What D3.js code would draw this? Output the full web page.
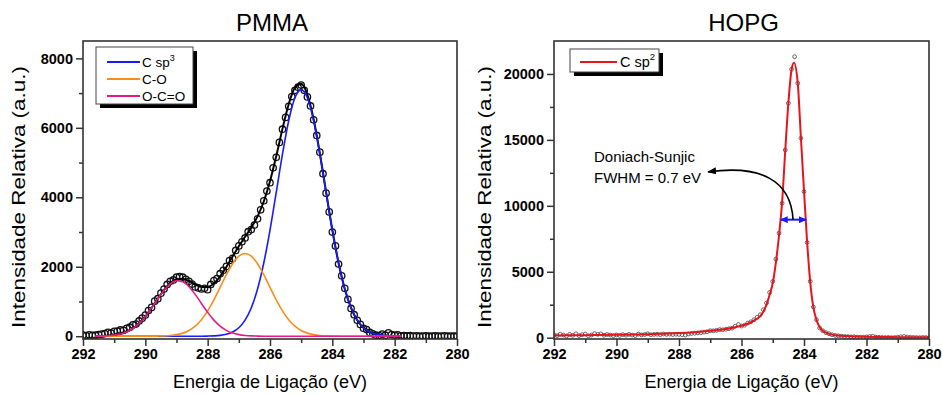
<!DOCTYPE html>
<html><head><meta charset="utf-8">
<script src="https://cdn.jsdelivr.net/npm/d3@7"></script>
<style>
body{margin:0;background:#fff;}
svg{display:block;font-family:"Liberation Sans",Arial,sans-serif;}
</style></head><body>
<svg id="chart" width="942" height="395"></svg>
<script>
// ---------- DATA ----------
const xTicks = [292, 290, 288, 286, 284, 282, 280];
const xMinorTicks = [291, 289, 287, 285, 283, 281];
const pmmaYTicks = [0, 2000, 4000, 6000, 8000];
const pmmaYMinor = [1000, 3000, 5000, 7000];
const hopgYTicks = [0, 5000, 10000, 15000, 20000];
const hopgYMinor = [2500, 7500, 12500, 17500];

// PMMA measured points: binding energy 292.0 -> 280.0 eV, step 0.1 eV
const pmmaStartEV = 292.0, pmmaStepEV = 0.1;
const pmmaIntensity = [
  30,20,40,25,30,45,60,75,110,90,140,
  150,180,170,230,260,330,350,440,520,610,
  740,830,1010,1080,1240,1360,1490,1580,1620,1700,
  1720,1700,1640,1580,1500,1420,1390,1360,1380,1340,
  1490,1600,1660,1800,1900,2010,2180,2240,2470,2600,
  2720,2830,3010,3070,3200,3380,3640,3900,4180,4420,
  4850,5150,5580,5960,6300,6620,6900,7080,7170,7230,
  7080,6890,6630,6230,5780,5300,4680,4120,3580,3000,
  2600,2080,1740,1380,1060,800,620,460,340,230,
  190,110,70,30,20,60,30,100,50,30,
  40,10,20,10,15,5,10,0,5,10,
  0,5,10,0,5,10,0,5,0,5
];

// PMMA fitted components: 291.6 -> 281.8 eV, step 0.2 eV
const compStartEV = 291.6, compStepEV = 0.2;
const compSp3 = [0,0,0,0,0,0,0,0,0,0,0,0,0,0,0,0,0,
  1,4,10,24,55,120,243,462,819,1360,2108,3055,4139,5241,6204,6864,7100,
  6864,6204,5241,4139,3055,2108,1360,819,462,243,120,55,24,10,4,1];
const compCO = [0,0,0,0,0,0,0,0,0,
  2,4,9,21,45,89,166,290,475,729,1046,1407,1770,2087,2303,2380,2303,2087,
  1770,1407,1046,729,475,290,166,89,45,21,9,4,2,
  0,0,0,0,0,0,0,0,0,0];
const compOCO = [2,6,14,31,64,124,222,369,569,812,1076,1323,1509,1596,1567,1426,
  1205,944,686,463,289,168,90,45,21,9,4,1,
  0,0,0,0,0,0,0,0,0,0,0,0,0,0,0,0,0,0,0,0,0,0];
const pmmaFit = [2,6,14,31,64,124,222,369,569,814,1080,1332,1530,1641,1656,1592,
  1495,1420,1419,1519,1720,1993,2297,2591,2863,3131,3451,3879,4462,5185,5970,
  6679,7154,7266,6953,6249,5262,4148,3059,2110,1360,819,462,243,120,55,24,10,4,1];

// HOPG measured points: 292.0 -> 280.0 eV, step 0.1 eV
const hopgStartEV = 292.0, hopgStepEV = 0.1;
const hopgIntensity = [
  220,150,260,200,130,250,180,300,160,230,280,
  140,200,310,250,290,180,240,200,150,210,
  170,230,190,250,200,160,270,210,240,300,
  220,250,260,230,280,250,270,240,260,250,
  230,200,280,320,340,360,380,420,450,530,
  520,560,610,600,640,680,720,870,1000,880,
  950,1110,1200,1360,1550,1740,2120,2630,3430,4270,
  5960,7930,10200,14240,17780,20360,21310,19300,15130,11080,
  7220,4270,2330,1360,740,530,380,300,220,170,
  140,110,90,80,60,70,50,40,30,60,
  90,110,40,30,20,10,20,0,10,30,
  70,90,50,30,20,10,0,20,10,0
];
// HOPG Doniach-Sunjic fit
const hopgFitEV = [292.0,291.0,290.0,289.0,288.5,288.0,287.5,287.0,286.5,286.2,286.0,285.8,285.6,285.4,285.3,285.2,285.1,285.0,284.9,284.8,284.7,284.6,284.5,284.4,284.32,284.2,284.1,284.0,283.9,283.8,283.7,283.6,283.5,283.4,283.3,283.2,283.0,282.5,282.0,281.0,280.0];
const hopgFitI = [170,190,220,260,300,350,420,520,660,790,900,1060,1300,1640,1960,2500,3250,4150,5700,7750,10300,14200,17800,20300,20850,19300,15200,11150,7250,4200,2300,1350,800,520,380,290,190,110,70,40,30];

// annotation anchors (data units of the HOPG panel)
const fwhmEV = [284.75, 283.93], fwhmLevel = 8950;
const curveEV = [284.35, 284.42, 285.41, 287.07];
const curveI  = [8950, 11980, 13120, 12570];
const noteEV = 290.72, noteI = [13325, 11732];

// ---------- DRAWING ----------
const svg = d3.select("#chart");
const plotTop = 41, plotBottom = 339;
const frameColor = "#333";
const defs = svg.append("defs");

function addMarker(id, color, w, h) {
  defs.append("marker").attr("id", id)
    .attr("viewBox", "0 0 10 10").attr("refX", 9).attr("refY", 5)
    .attr("markerWidth", w).attr("markerHeight", h)
    .attr("markerUnits", "userSpaceOnUse")
    .attr("preserveAspectRatio", "none")
    .attr("orient", "auto-start-reverse")
    .append("path").attr("d", "M0,0L10,5L0,10z").attr("fill", color);
}
addMarker("ahBlack", "#000", 9, 7);
addMarker("ahBlue", "#1a1aff", 8, 7);

function makePanel(cfg) {
  const x = d3.scaleLinear().domain([292, 280]).range([cfg.x0, cfg.x1]);
  const y = d3.scaleLinear().domain(cfg.yDomain).range([plotBottom, plotTop]);
  const g = svg.append("g");
  const clipId = "clip" + cfg.id;
  defs.append("clipPath").attr("id", clipId).append("rect")
    .attr("x", cfg.x0).attr("y", plotTop).attr("width", cfg.x1 - cfg.x0).attr("height", plotBottom - plotTop);
  const plot = g.append("g").attr("clip-path", `url(#${clipId})`);

  // axes
  const ax = g.append("g").attr("transform", `translate(0,${plotBottom})`)
    .call(d3.axisBottom(x).tickValues(xTicks).tickSize(7).tickPadding(3).tickFormat(d3.format("d")));
  const axm = g.append("g").attr("transform", `translate(0,${plotBottom})`)
    .call(d3.axisBottom(x).tickValues(xMinorTicks).tickSize(4).tickFormat(""));
  const ay = g.append("g").attr("transform", `translate(${cfg.x0},0)`)
    .call(d3.axisLeft(y).tickValues(cfg.yTicks).tickSize(7).tickPadding(3).tickFormat(d3.format("d")));
  const aym = g.append("g").attr("transform", `translate(${cfg.x0},0)`)
    .call(d3.axisLeft(y).tickValues(cfg.yMinor).tickSize(4).tickFormat(""));
  [ax, axm, ay, aym].forEach(a => {
    a.select(".domain").remove();
    a.selectAll(".tick line").attr("stroke", frameColor).attr("stroke-width", 1.5);
    a.selectAll(".tick text").attr("font-size", "14.5px").attr("font-weight", "bold")
      .attr("fill", "#000").attr("font-family", "Liberation Sans, Arial, sans-serif");
  });

  // frame
  g.append("rect").attr("x", cfg.x0).attr("y", plotTop)
    .attr("width", cfg.x1 - cfg.x0).attr("height", plotBottom - plotTop)
    .attr("fill", "none").attr("stroke", frameColor).attr("stroke-width", 1.6);

  // titles
  g.append("text").attr("x", (cfg.x0 + cfg.x1) / 2 + 2).attr("y", 31)
    .attr("text-anchor", "middle").attr("font-size", "24px").text(cfg.title);
  g.append("text").attr("x", (cfg.x0 + cfg.x1) / 2).attr("y", 388)
    .attr("text-anchor", "middle").attr("font-size", "17.5px")
    .attr("textLength", 194).attr("lengthAdjust", "spacingAndGlyphs")
    .text("Energia de Ligação (eV)");
  g.append("text").attr("transform", `translate(${cfg.ylabX},${cfg.ylabY}) rotate(-90)`)
    .attr("text-anchor", "middle").attr("font-size", "18px")
    .attr("textLength", cfg.ylabLen).attr("lengthAdjust", "spacingAndGlyphs")
    .text("Intensidade Relativa (a.u.)");
  return {x, y, g, plot};
}

// ---- PMMA ----
const L = makePanel({id: "L", x0: 83, x1: 457, yDomain: [-80, 8500],
  yTicks: pmmaYTicks, yMinor: pmmaYMinor, title: "PMMA", ylabX: 25, ylabY: 197, ylabLen: 262});
const pmmaPts = pmmaIntensity.map((v, i) => ({e: pmmaStartEV - i * pmmaStepEV, v}));
const comp = arr => arr.map((v, i) => ({e: compStartEV - i * compStepEV, v}));
const lineL = d3.line().x(d => L.x(d.e)).y(d => L.y(d.v)).curve(d3.curveMonotoneX);

L.plot.append("g").selectAll("circle").data(pmmaPts).join("circle")
  .attr("cx", d => L.x(d.e)).attr("cy", d => L.y(d.v)).attr("r", 3.2)
  .attr("fill", "none").attr("stroke", "#111").attr("stroke-width", 1.3);
L.plot.append("path").datum(comp(pmmaFit)).attr("d", lineL)
  .attr("fill", "none").attr("stroke", "#000").attr("stroke-width", 2);
const compColors = ["#1a1aff", "#ff8c1a", "#e6198c"];
[compSp3, compCO, compOCO].forEach((arr, k) => {
  L.plot.append("path").datum(comp(arr)).attr("d", lineL)
    .attr("fill", "none").attr("stroke", compColors[k]).attr("stroke-width", 1.6);
});

// legend PMMA
const legL = L.g.append("g");
legL.append("rect").attr("x", 100).attr("y", 51).attr("width", 97).attr("height", 57).attr("fill", "#000");
legL.append("rect").attr("x", 96).attr("y", 47).attr("width", 97).attr("height", 57)
  .attr("fill", "#fff").attr("stroke", "#444").attr("stroke-width", 1);
const legNames = [["C sp", "3"], ["C-O", ""], ["O-C=O", ""]];
legNames.forEach((n, k) => {
  const yy = 62 + k * 17;
  legL.append("line").attr("x1", 107).attr("x2", 140).attr("y1", yy).attr("y2", yy)
    .attr("stroke", compColors[k]).attr("stroke-width", 2);
  const t = legL.append("text").attr("x", 142).attr("y", yy + 5).attr("font-size", "13.5px").text(n[0]);
  if (n[1]) t.append("tspan").attr("font-size", "9px").attr("dy", -6).text(n[1]);
});

// ---- HOPG ----
const R = makePanel({id: "R", x0: 554, x1: 929, yDomain: [-100, 22500],
  yTicks: hopgYTicks, yMinor: hopgYMinor, title: "HOPG", ylabX: 491, ylabY: 197, ylabLen: 262});
const hopgPts = hopgIntensity.map((v, i) => ({e: hopgStartEV - i * hopgStepEV, v}));
R.plot.append("g").selectAll("circle").data(hopgPts).join("circle")
  .attr("cx", d => R.x(d.e)).attr("cy", d => R.y(d.v)).attr("r", 1.9)
  .attr("fill", "none").attr("stroke", "#555").attr("stroke-width", 0.9);
const hopgFit = hopgFitEV.map((e, i) => ({e, v: hopgFitI[i]}));
R.plot.append("path").datum(hopgFit)
  .attr("d", d3.line().x(d => R.x(d.e)).y(d => R.y(d.v)).curve(d3.curveMonotoneX))
  .attr("fill", "none").attr("stroke", "#e8141c").attr("stroke-width", 2);

// FWHM arrow
R.g.append("line").attr("x1", R.x(fwhmEV[0])).attr("x2", R.x(fwhmEV[1]))
  .attr("y1", R.y(fwhmLevel)).attr("y2", R.y(fwhmLevel))
  .attr("stroke", "#1a1aff").attr("stroke-width", 2)
  .attr("marker-start", "url(#ahBlue)").attr("marker-end", "url(#ahBlue)");
// curved pointer
const cp = curveEV.map((e, i) => [R.x(e), R.y(curveI[i])]);
R.g.append("path")
  .attr("d", `M${cp[0][0]},${cp[0][1]} C${cp[1][0]},${cp[1][1]} ${cp[2][0]},${cp[2][1]} ${cp[3][0]},${cp[3][1]}`)
  .attr("fill", "none").attr("stroke", "#000").attr("stroke-width", 1.6)
  .attr("marker-end", "url(#ahBlack)");
R.g.append("text").attr("x", R.x(noteEV)).attr("y", R.y(noteI[0])).attr("font-size", "15px").text("Doniach-Sunjic");
R.g.append("text").attr("x", R.x(noteEV)).attr("y", R.y(noteI[1])).attr("font-size", "15px").text("FWHM = 0.7 eV");

// legend HOPG
const legR = R.g.append("g");
legR.append("rect").attr("x", 574).attr("y", 53).attr("width", 89).attr("height", 23).attr("fill", "#000");
legR.append("rect").attr("x", 570).attr("y", 49).attr("width", 89).attr("height", 23)
  .attr("fill", "#fff").attr("stroke", "#444").attr("stroke-width", 1);
legR.append("line").attr("x1", 580).attr("x2", 617).attr("y1", 62).attr("y2", 62)
  .attr("stroke", "#e8141c").attr("stroke-width", 2);
const tR = legR.append("text").attr("x", 620).attr("y", 67).attr("font-size", "14.5px").text("C sp");
tR.append("tspan").attr("font-size", "9.5px").attr("dy", -7).text("2");
</script>
</body></html>
